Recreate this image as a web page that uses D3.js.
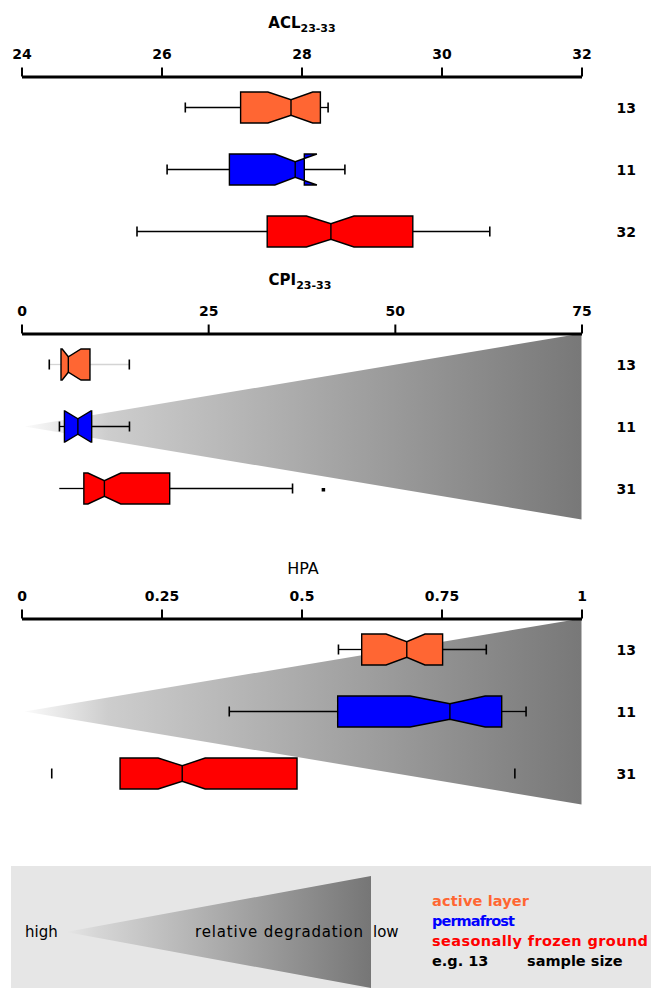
<!DOCTYPE html>
<html>
<head>
<meta charset="utf-8">
<script src="https://cdn.jsdelivr.net/npm/d3@7"></script>
<style>
  body { margin: 0; background: #ffffff; }
  text { font-family: "DejaVu Sans", Verdana, sans-serif; }
</style>
</head>
<body>
<svg id="chart" width="651" height="994"></svg>
<script>
// Ground classes, drawn top to bottom in every panel
const groups = ["active layer", "permafrost", "seasonally frozen ground"];
const groupColors = ["#ff6633", "#0000ff", "#ff0000"];

// Each stats row: [whisker low, Q1, notch low, median, notch high, Q3, whisker high]
const aclTicks = [24, 26, 28, 30, 32];
const aclTickLabels = ["24", "26", "28", "30", "32"];
const aclStats = [
  [26.34, 27.13, 27.52, 27.85, 28.16, 28.27, 28.38],
  [26.08, 26.97, 27.62, 27.91, 28.22, 28.04, 28.62],
  [25.65, 27.51, 28.07, 28.42, 28.75, 29.59, 30.69]
];
const aclN = [13, 11, 32];

const cpiTicks = [0, 25, 50, 75];
const cpiTickLabels = ["0", "25", "50", "75"];
const cpiStats = [
  [3.72, 5.29, 5.45, 6.27, 7.97, 9.17, 14.44],
  [5.08, 5.75, 5.80, 7.55, 9.30, 9.40, 14.46],
  [5.06, 8.35, 8.90, 11.10, 13.30, 19.85, 36.30]
];
const cpiOutliers = [[], [], [40.4]];
const cpiN = [13, 11, 31];

const hpaTicks = [0, 0.25, 0.5, 0.75, 1];
const hpaTickLabels = ["0", "0.25", "0.5", "0.75", "1"];
const hpaStats = [
  [0.566, 0.6075, 0.651, 0.688, 0.7205, 0.752, 0.830],
  [0.371, 0.5646, 0.694, 0.765, 0.828, 0.8575, 0.901],
  [0.054, 0.176, 0.244, 0.287, 0.328, 0.492, 0.881]
];
const hpaOutliers = [[], [], []];
const hpaN = [13, 11, 31];

const legendItems = ["active layer", "permafrost", "seasonally frozen ground"];

// Panel layout and drawing options
const panels = [
  { title: "ACL", sub: "23-33", titleY: 28, titleX: 302, bold: true, axisY: 76.5,
    domain: [24, 32], ticks: aclTicks, tickLabels: aclTickLabels, stats: aclStats,
    outliers: [[], [], []], n: aclN, wedge: false,
    whiskerLine: ["#000", "#000", "#000"], capLow: [true, true, true], capHigh: [true, true, true] },
  { title: "CPI", sub: "23-33", titleY: 285, titleX: 300, bold: true, axisY: 333.5,
    domain: [0, 75], ticks: cpiTicks, tickLabels: cpiTickLabels, stats: cpiStats,
    outliers: cpiOutliers, n: cpiN, wedge: true,
    whiskerLine: ["#d4d4d4", "#000", "#000"], capLow: [true, true, false], capHigh: [true, true, true] },
  { title: "HPA", sub: "", titleY: 574, titleX: 303, bold: false, axisY: 618.5,
    domain: [0, 1], ticks: hpaTicks, tickLabels: hpaTickLabels, stats: hpaStats,
    outliers: hpaOutliers, n: hpaN, wedge: true,
    whiskerLine: ["#000", "#000", "none"], capLow: [true, true, true], capHigh: [true, true, true] }
];

const svg = d3.select("#chart");
const defs = svg.append("defs");
const xRange = [21.5, 581.5];
const boxHalf = 15.5;
const notchFrac = 0.5;
const capHalf = 5;

function wedgeGradient(id, x1, x2, stops) {
  const g = defs.append("linearGradient").attr("id", id)
    .attr("gradientUnits", "userSpaceOnUse")
    .attr("x1", x1).attr("x2", x2).attr("y1", 0).attr("y2", 0);
  stops.forEach(s => g.append("stop").attr("offset", s[0]).attr("stop-color", s[1]));
}

panels.forEach((p, pi) => {
  const x = d3.scaleLinear().domain(p.domain).range(xRange);
  const y = d3.scalePoint().domain(groups).range([p.axisY + 31, p.axisY + 31 + 124]);
  const g = svg.append("g");

  // grey wedge of relative degradation
  if (p.wedge) {
    const apexX = x(p.domain[0]) + 3;
    const midY = y(groups[1]);
    const rightX = x(p.domain[1]);
    const id = "wedge" + pi;
    wedgeGradient(id, apexX, rightX, [[0, "#fbfbfb"], [0.15, "#cdcdcd"], [1, "#787878"]]);
    g.append("path")
      .attr("d", d3.line()([[apexX, midY], [rightX, p.axisY], [rightX, 2 * midY - p.axisY]]) + "Z")
      .attr("fill", "url(#" + id + ")");
  }

  // axis on top
  const axis = d3.axisTop(x)
    .tickValues(p.ticks)
    .tickFormat((d, i) => p.tickLabels[i])
    .tickSize(9).tickSizeOuter(0).tickPadding(9);
  const ax = g.append("g").attr("transform", `translate(0,${p.axisY})`).call(axis);
  ax.select(".domain").attr("stroke-width", 3);
  ax.selectAll(".tick line").attr("stroke-width", 2);
  ax.selectAll(".tick text")
    .attr("font-size", 14).attr("font-weight", "bold").attr("fill", "#000")
    .attr("font-family", "DejaVu Sans");

  // title
  const t = g.append("text").attr("x", p.titleX).attr("y", p.titleY)
    .attr("text-anchor", "middle")
    .attr("font-size", p.bold ? 15 : 16)
    .attr("font-weight", p.bold ? "bold" : "normal");
  t.append("tspan").text(p.title);
  if (p.sub) t.append("tspan").attr("dy", 4).attr("font-size", 11).text(p.sub);

  // boxes
  p.stats.forEach((s, i) => {
    const [wlo, q1, clo, med, chi, q3, whi] = s;
    const cy = y(groups[i]);
    const top = cy - boxHalf, bot = cy + boxHalf;
    const inTop = cy - boxHalf * notchFrac, inBot = cy + boxHalf * notchFrac;
    const wl = p.whiskerLine[i];

    if (wl !== "none") {
      g.append("line").attr("x1", x(wlo)).attr("x2", x(q1)).attr("y1", cy).attr("y2", cy)
        .attr("stroke", wl).attr("stroke-width", 1.3);
      g.append("line").attr("x1", x(q3)).attr("x2", x(whi)).attr("y1", cy).attr("y2", cy)
        .attr("stroke", wl).attr("stroke-width", 1.3);
    }
    if (p.capLow[i]) g.append("line").attr("x1", x(wlo)).attr("x2", x(wlo))
      .attr("y1", cy - capHalf).attr("y2", cy + capHalf).attr("stroke", "#000").attr("stroke-width", 1.6);
    if (p.capHigh[i]) g.append("line").attr("x1", x(whi)).attr("x2", x(whi))
      .attr("y1", cy - capHalf).attr("y2", cy + capHalf).attr("stroke", "#000").attr("stroke-width", 1.6);

    const pts = [
      [x(q1), bot], [x(q1), top], [x(clo), top], [x(med), inTop], [x(chi), top],
      [x(q3), top], [x(q3), bot], [x(chi), bot], [x(med), inBot], [x(clo), bot]
    ];
    g.append("path").attr("d", d3.line()(pts) + "Z")
      .attr("fill", groupColors[i]).attr("stroke", "#000").attr("stroke-width", 1.4)
      .attr("stroke-linejoin", "miter");
    g.append("line").attr("x1", x(med)).attr("x2", x(med)).attr("y1", inTop).attr("y2", inBot)
      .attr("stroke", "#000").attr("stroke-width", 1.4);

    p.outliers[i].forEach(o => {
      g.append("rect").attr("x", x(o) - 1.5).attr("y", cy - 0.5).attr("width", 3.5).attr("height", 3.5)
        .attr("fill", "#000");
    });

    g.append("text").attr("x", 636).attr("y", cy + 5).attr("text-anchor", "end")
      .attr("font-size", 14).attr("font-weight", "bold").text(p.n[i]);
  });
});

// Legend
const lg = svg.append("g");
lg.append("rect").attr("x", 11).attr("y", 866).attr("width", 640).attr("height", 122).attr("fill", "#e6e6e6");
wedgeGradient("legendWedge", 66, 371, [[0, "#e6e6e6"], [0.1, "#d6d6d6"], [1, "#767676"]]);
lg.append("path")
  .attr("d", d3.line()([[66, 932], [371, 876], [371, 988]]) + "Z")
  .attr("fill", "url(#legendWedge)");
lg.append("text").attr("x", 25).attr("y", 937).attr("font-size", 15).text("high");
lg.append("text").attr("x", 363).attr("y", 937).attr("font-size", 15).attr("text-anchor", "end")
  .attr("textLength", 168).attr("lengthAdjust", "spacing").text("relative degradation");
lg.append("text").attr("x", 373).attr("y", 937).attr("font-size", 15).text("low");

const legendWidths = [97, 83, 216];
legendItems.forEach((name, i) => {
  lg.append("text").attr("x", 432).attr("y", 906 + i * 20)
    .attr("font-size", 14.5).attr("font-weight", "bold").attr("fill", groupColors[i])
    .attr("textLength", legendWidths[i]).attr("lengthAdjust", "spacing")
    .text(name);
});
lg.append("text").attr("x", 432).attr("y", 966).attr("font-size", 14.5).attr("font-weight", "bold")
  .text("e.g. 13");
lg.append("text").attr("x", 527).attr("y", 966).attr("font-size", 14.5).attr("font-weight", "bold")
  .text("sample size");
</script>
</body>
</html>
